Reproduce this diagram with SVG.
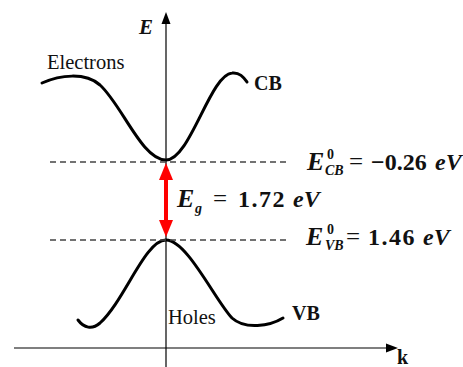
<svg xmlns="http://www.w3.org/2000/svg" width="463" height="367" viewBox="0 0 463 367">
<style>
text{font-family:'Liberation Serif','DejaVu Serif','Times New Roman',serif}
.ax{stroke:#000;stroke-width:1.2;fill:none}
.band{stroke:#000;stroke-width:3;fill:none;stroke-linecap:round}
.dash{stroke:#444;stroke-width:1.3;stroke-dasharray:6 4;fill:none}
.lbl{font-size:20.5px;fill:#111}
.blbl{font-size:20px;font-weight:bold;fill:#111}
.m{font-weight:bold;font-size:24px;fill:#111}
.E{font-size:26px}
.eq{font-size:25px;font-weight:normal}
.mi{font-style:italic}
.ms{font-size:14px}
</style>
<g id="axes">
<line class="ax" x1="166" y1="22" x2="166" y2="367"/>
<polygon points="166,12 161.5,24 170.5,24" fill="#000"/>
<line class="ax" x1="14" y1="348" x2="388" y2="348"/>
<polygon points="398,348 386,343.5 386,352.5" fill="#000"/>
<text class="m mi" x="139" y="34" font-family="Liberation Serif" style="font-size:21px">E</text>
<text class="blbl" x="397" y="364" font-family="Liberation Serif">k</text>
</g>
<g id="cb">
<path class="band" d="M42,83 C60,75 85,72 100,85 C122,105 142,160 166,160 C190,160 210,75 232,73 C240,72 244,78 247,82"/>
<text class="lbl" x="47" y="69" font-family="Liberation Serif">Electrons</text>
<text class="blbl" x="254" y="90" font-family="Liberation Serif">CB</text>
</g>
<g id="vb">
<path class="band" d="M78,320 C84,328 92,330 100,323 C125,300 145,240 166,240 C187,240 215,300 232,318 C245,330 270,326 283,318"/>
<text class="lbl" x="168" y="324" font-family="Liberation Serif">Holes</text>
<text class="blbl" x="292" y="320" font-family="Liberation Serif">VB</text>
</g>
<g id="connectors">
<line class="dash" x1="50" y1="162" x2="290" y2="162"/>
<line class="dash" x1="50" y1="240" x2="290" y2="240"/>
<line x1="166" y1="176" x2="166" y2="224" stroke="#ff0000" stroke-width="4"/>
<polygon points="166,163 159,180 173,180" fill="#ff0000"/>
<polygon points="166,237 159,220 173,220" fill="#ff0000"/>
</g>
<g id="ecb">
<text class="m mi E" x="307" y="170" font-family="Liberation Serif">E</text>
<text class="m ms" x="327" y="159" font-family="Liberation Serif">0</text>
<text class="m ms mi" x="325" y="175" font-family="Liberation Serif">CB</text>
<text class="m eq" x="349" y="170" font-family="Liberation Serif">=</text>
<text class="m" x="371" y="170" font-family="Liberation Serif">−0.26</text>
<text class="m mi" x="435" y="170" font-family="Liberation Serif">eV</text>
</g>
<g id="eg">
<text class="m mi E" x="177" y="207" font-family="Liberation Serif">E</text>
<text class="m ms mi" x="195" y="213" font-family="Liberation Serif">g</text>
<text class="m eq" x="213" y="207" font-family="Liberation Serif">=</text>
<text class="m" x="238" y="207" font-family="Liberation Serif" style="letter-spacing:1.5px">1.72</text>
<text class="m mi" x="293" y="207" font-family="Liberation Serif">eV</text>
</g>
<g id="evb">
<text class="m mi E" x="306" y="245" font-family="Liberation Serif">E</text>
<text class="m ms" x="327" y="234" font-family="Liberation Serif">0</text>
<text class="m ms mi" x="325" y="250" font-family="Liberation Serif">VB</text>
<text class="m eq" x="346" y="245" font-family="Liberation Serif">=</text>
<text class="m" x="368" y="245" font-family="Liberation Serif" style="letter-spacing:1.5px">1.46</text>
<text class="m mi" x="423" y="245" font-family="Liberation Serif">eV</text>
</g>
</svg>
